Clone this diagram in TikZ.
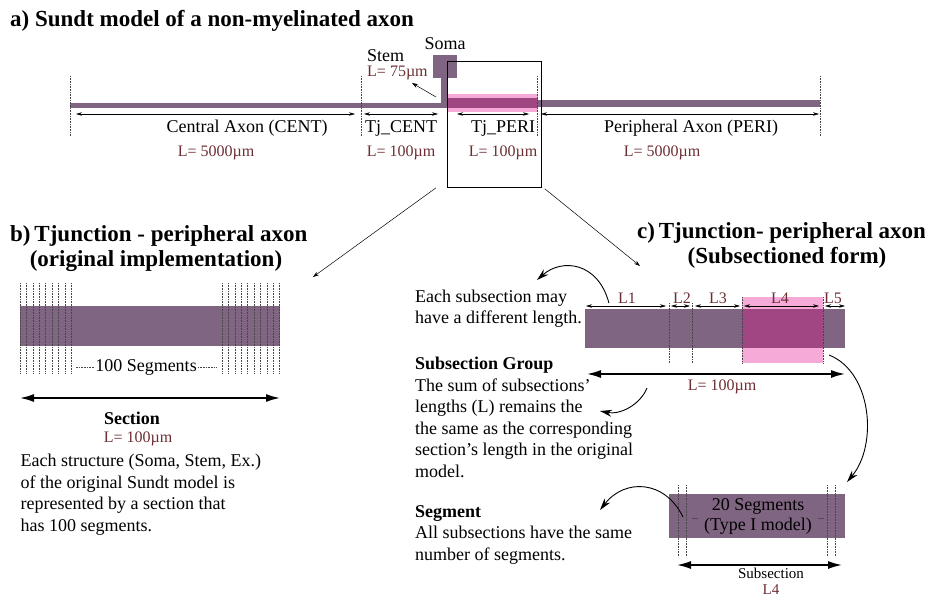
\documentclass[tikz,border=0pt]{standalone}
\usepackage{fontspec}
\setmainfont{Liberation Serif}
\usetikzlibrary{arrows.meta,positioning}
\definecolor{axon}{RGB}{127,101,130}
\definecolor{tjpink}{RGB}{246,170,216}
\definecolor{tjdark}{RGB}{160,70,130}
\definecolor{lenred}{RGB}{108,46,50}
\tikzset{
  txt/.style={inner sep=0pt,font=\fontsize{18}{21.5}\selectfont},
  btxt/.style={inner sep=0pt,font=\fontsize{18}{21.5}\selectfont\bfseries},
  lbl/.style={inner sep=0pt,text=lenred,font=\fontsize{16}{19}\selectfont},
  ttl/.style={inner sep=0pt,font=\fontsize{23}{27}\selectfont\bfseries},
  seg/.style={densely dotted,gray!55!black,line width=0.6pt},
  dim/.style={{Stealth[length=6pt,width=3.5pt]}-{Stealth[length=6pt,width=3.5pt]},line width=0.5pt},
  thinarr/.style={-{Stealth[length=6pt,width=4pt]},line width=0.5pt},
  bigdim/.style={{Latex[length=14pt,width=8pt]}-{Latex[length=14pt,width=8pt]},line width=1.6pt},
  bendarr/.style={-{Stealth[length=12pt,width=7pt]},line width=0.9pt},
}
\begin{document}
\begin{tikzpicture}[x=1pt,y=-1pt]
\useasboundingbox (0,0) rectangle (925,596);

% a) the whole axon
\node[ttl,anchor=base west] (ta) at (10,27) {a) Sundt model of a non-myelinated axon};
\fill[axon] (70,103) rectangle (447,108);
\fill[axon] (441,76) rectangle (447,108);
\fill[axon] (433,55) rectangle (457,78);
\fill[tjpink] (447,94) rectangle (538,112);
\fill[tjdark] (447,98) rectangle (538,108);
\fill[axon] (538,100) rectangle (820,107);
\foreach \x/\n in {70/m0,361/m1,537/m2,820/m3}
  \draw[seg] (\x,76) coordinate (\n) -- (\x,136);
\node[draw,line width=0.8pt,inner sep=0pt,minimum width=94pt,minimum height=126pt,anchor=north west] (tjbox) at (447,61) {};
\draw[dim] (76,114) -- (355,114);
\draw[dim] (364,114) -- (438,114);
\draw[dim] (457,114) -- (529,114);
\draw[dim] (541,114) -- (819,114);
\node[txt,anchor=base] (cent) at (247,133) {Central Axon (CENT)};
\node[txt,anchor=base] (tjc) at (401,133) {Tj\_CENT};
\node[txt,anchor=base] (tjp) at (503,133) {Tj\_PERI};
\node[txt,anchor=base] (peri) at (691,133) {Peripheral Axon (PERI)};
\node[lbl,anchor=base] (centL) at (216,157) {L= 5000µm};
\node[lbl,anchor=base] (tjcL) at (401,157) {L= 100µm};
\node[lbl,anchor=base] (tjpL) at (503,157) {L= 100µm};
\node[lbl,anchor=base] (periL) at (662,157) {L= 5000µm};
\node[txt,anchor=base west] (stem) at (367,62) {Stem};
\node[lbl,anchor=base west] (stemL) at (367,77) {L= 75µm};
\node[txt,anchor=base] (soma) at (445,50) {Soma};
\coordinate (stemtip) at (412,83);
\draw[thinarr] (436,97) -- (stemtip);
\coordinate (tob) at (313,277);
\coordinate (toc) at (640,266);
\draw[thinarr] ([xshift=-11pt]tjbox.south west) -- (tob);
\draw[thinarr] ([xshift=3pt,yshift=-1pt]tjbox.south east) -- (toc);

% b) original implementation
\node[ttl,anchor=base west] (tb) at (10,241) {b)\,Tjunction - peripheral axon};
\node[ttl,anchor=base] (tb2) at (156,266) {(original implementation)};
\fill[axon] (20,306) rectangle (280,346);
\foreach \i in {0,...,8}
  \draw[seg] ({20+6.4*\i},283) -- ({20+6.4*\i},373);
\foreach \i in {0,...,9}
  \draw[seg] ({222+6.4*\i},283) -- ({222+6.4*\i},373);
\node[txt,anchor=base] (segs) at (146,371) {100 Segments};
\draw[seg] ([xshift=-1pt]segs.west) -- ++(-18,0);
\draw[seg] ([xshift=1pt]segs.east) -- ++(18,0);
\draw[bigdim] (20,398) -- (280,398);
\node[btxt,anchor=base] (sect) at (132,424) {Section};
\node[lbl,anchor=base] (sectL) at (138,442) {L= 100µm};
\node[txt,anchor=north west,align=left] (bpar) at (20.5,454.2) {Each structure (Soma, Stem, Ex.)\\of the original Sundt model is\\represented by a section that\\has 100 segments.};

% c) subsectioned form
\node[ttl,anchor=base west] (tc) at (637,238) {c)\,Tjunction- peripheral axon};
\node[ttl,anchor=base] (tc2) at (787,263) {(Subsectioned form)};
\fill[axon] (585,309) rectangle (845,348);
\fill[tjpink] (742,297) rectangle (823,363);
\fill[tjdark] (742,309) rectangle (823,348);
\foreach \x in {669,692}
  \draw[seg] (\x,303) -- (\x,363);
\foreach \x in {742,823}
  \draw[seg] (\x,297) -- (\x,363);
\draw[dim] (586,306) -- (666,306);
\draw[dim] (671,306) -- (690,306);
\draw[dim] (695,306) -- (740,306);
\draw[dim] (744,306) -- (819,306);
\draw[dim] (825,306) -- (845,306);
\node[lbl,anchor=base] (l1) at (627,303) {L1};
\node[lbl,anchor=base] (l2) at (682,303) {L2};
\node[lbl,anchor=base] (l3) at (718,303) {L3};
\node[lbl,anchor=base] (l4) at (780,303) {L4};
\node[lbl,anchor=base] (l5) at (833,303) {L5};
\node[txt,anchor=north west,align=left] (eachsub) at (415,289.4) {Each subsection may\\have a different length.};
\coordinate (eachtip) at (537,280);
\draw[bendarr] ([xshift=-9pt]l1.base west) .. controls (598,262) and (562,258) .. (eachtip);
\draw[bigdim] (587,374) -- (845,374);
\node[lbl,anchor=base] (grpL) at (722,390) {L= 100µm};
\node[txt,anchor=north west,align=left] (grp) at (415,357) {\textbf{Subsection Group}\\The sum of subsections'\\lengths (L) remains the\\the same as the corresponding\\section's length in the original\\model.};
\coordinate (grptip) at (600,411);
\draw[bendarr] (647,388) .. controls (640,405) and (620,415) .. (grptip);
% one subsection in detail
\fill[axon] (669,494) rectangle (845,538);
\foreach \x in {678,686,827,835}
  \draw[seg] (\x,485) -- (\x,557);
\node[txt,anchor=base] (seg20) at (758,510) {20 Segments};
\node[txt,anchor=base] (type1) at (758,530) {(Type I model)};
\node[inner sep=0pt,font=\fontsize{8}{8}\selectfont] (dotl) at (695,519) {...};
\node[inner sep=0pt,font=\fontsize{8}{8}\selectfont] (dotr) at (821,519) {...};
\coordinate (segtop) at (829,355);
\draw[bendarr] (segtop) .. controls (872,372) and (878,445) .. (847,482);
\draw[bigdim] (677,565) -- (842,565);
\node[inner sep=0pt,font=\fontsize{15}{17}\selectfont,anchor=base] (subs) at (771,578) {Subsection};
\node[lbl,font=\fontsize{15}{17}\selectfont,anchor=base] (subsL) at (771,594) {L4};
\node[txt,anchor=north west,align=left] (segm) at (415,505) {\textbf{Segment}\\All subsections have the same\\number of segments.};
\coordinate (segtip) at (600,510);
\draw[bendarr] (683,517) .. controls (665,480) and (625,478) .. (segtip);
\end{tikzpicture}
\end{document}
